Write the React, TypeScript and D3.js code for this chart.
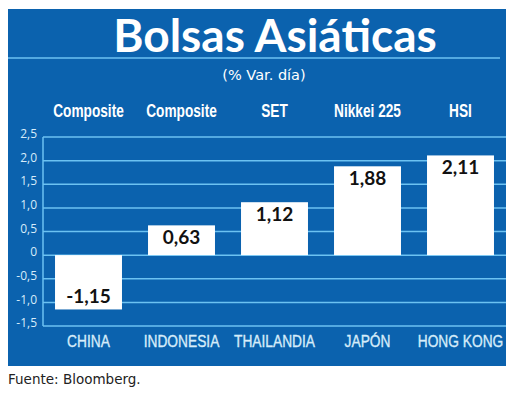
import React from "react";
import * as d3 from "d3";

const countries = ["CHINA", "INDONESIA", "THAILANDIA", "JAPÓN", "HONG KONG"];
const indices = ["Composite", "Composite", "SET", "Nikkei 225", "HSI"];
const values = [-1.15, 0.63, 1.12, 1.88, 2.11];
const yTicks = [-1.5, -1.0, -0.5, 0, 0.5, 1.0, 1.5, 2.0, 2.5];
const title = "Bolsas Asiáticas";
const subtitle = "(% Var. día)";
const source = "Fuente: Bloomberg.";

const W = 520;
const H = 401;
const BLUE = "#0b62ae";
const GRID = "#6cc2f2";
const LIGHT = "#d6ecfa";

export default function App() {
  const x = d3
    .scaleBand<number>()
    .domain(d3.range(countries.length))
    .range([42, 507])
    .paddingInner(0.28)
    .paddingOuter(0.14);
  const y = d3.scaleLinear().domain([-1.5, 2.5]).range([326, 137]);
  const fmt = (v: number) =>
    v === 0 ? "0" : d3.format(".1f")(v).replace(".", ",").replace("−", "-");
  const fmtVal = (v: number) => d3.format(".2f")(v).replace(".", ",").replace("−", "-");
  const cxOf = (i: number) => (x(i) as number) + x.bandwidth() / 2;

  return (
    <svg
      width={W}
      height={H}
      style={{ position: "absolute", left: 0, top: 0, background: "#fff" }}
    >
      <rect x={8} y={9} width={498} height={357} fill={BLUE} />
      <line x1={8} x2={500} y1={58} y2={58} stroke={GRID} strokeWidth={1.5} />
      <text
        x={275}
        y={52}
        textAnchor="middle"
        fill="#fff"
        fontFamily="Lato, sans-serif"
        fontWeight="bold"
        fontSize={46}
      >
        {title}
      </text>
      <text
        x={264}
        y={80}
        textAnchor="middle"
        fill="#fff"
        fontFamily="'DejaVu Sans', sans-serif"
        fontSize={14.5}
      >
        {subtitle}
      </text>
      {indices.map((s, i) => (
        <text
          key={"h" + i}
          transform={`translate(${cxOf(i)},117) scale(0.76,1)`}
          textAnchor="middle"
          fill="#fff"
          fontFamily="'Liberation Sans', sans-serif"
          fontWeight="bold"
          fontSize={18}
        >
          {s}
        </text>
      ))}
      {yTicks.map((t) => (
        <g key={"t" + t}>
          <line x1={43} x2={506} y1={y(t)} y2={y(t)} stroke={GRID} strokeWidth={1.5} />
          <text
            x={37}
            y={y(t)}
            dy="0.1em"
            textAnchor="end"
            fill={LIGHT}
            fontFamily="'Open Sans', sans-serif"
            fontSize={12}
          >
            {fmt(t)}
          </text>
        </g>
      ))}
      <line x1={43} x2={43} y1={y(2.5)} y2={y(-1.5)} stroke={GRID} strokeWidth={1.5} />
      {values.map((v, i) => {
        const top = y(Math.max(0, v));
        const bot = y(Math.min(0, v));
        return (
          <g key={"b" + i}>
            <rect x={x(i)} y={top} width={x.bandwidth()} height={bot - top} fill="#fff" />
            <text
              x={cxOf(i)}
              y={v >= 0 ? top + 19 : bot - 6}
              textAnchor="middle"
              fill="#111"
              fontFamily="Lato, sans-serif"
              fontWeight="bold"
              fontSize={19}
            >
              {fmtVal(v)}
            </text>
          </g>
        );
      })}
      {countries.map((c, i) => (
        <text
          key={"c" + i}
          transform={`translate(${cxOf(i)},347) scale(0.86,1)`}
          textAnchor="middle"
          fill={LIGHT}
          stroke={LIGHT}
          strokeWidth={0.35}
          fontFamily="'Liberation Sans', sans-serif"
          fontSize={16}
        >
          {c}
        </text>
      ))}
      <text
        x={8}
        y={384}
        fill="#222"
        fontFamily="'DejaVu Sans', sans-serif"
        fontSize={13.5}
      >
        {source}
      </text>
    </svg>
  );
}
